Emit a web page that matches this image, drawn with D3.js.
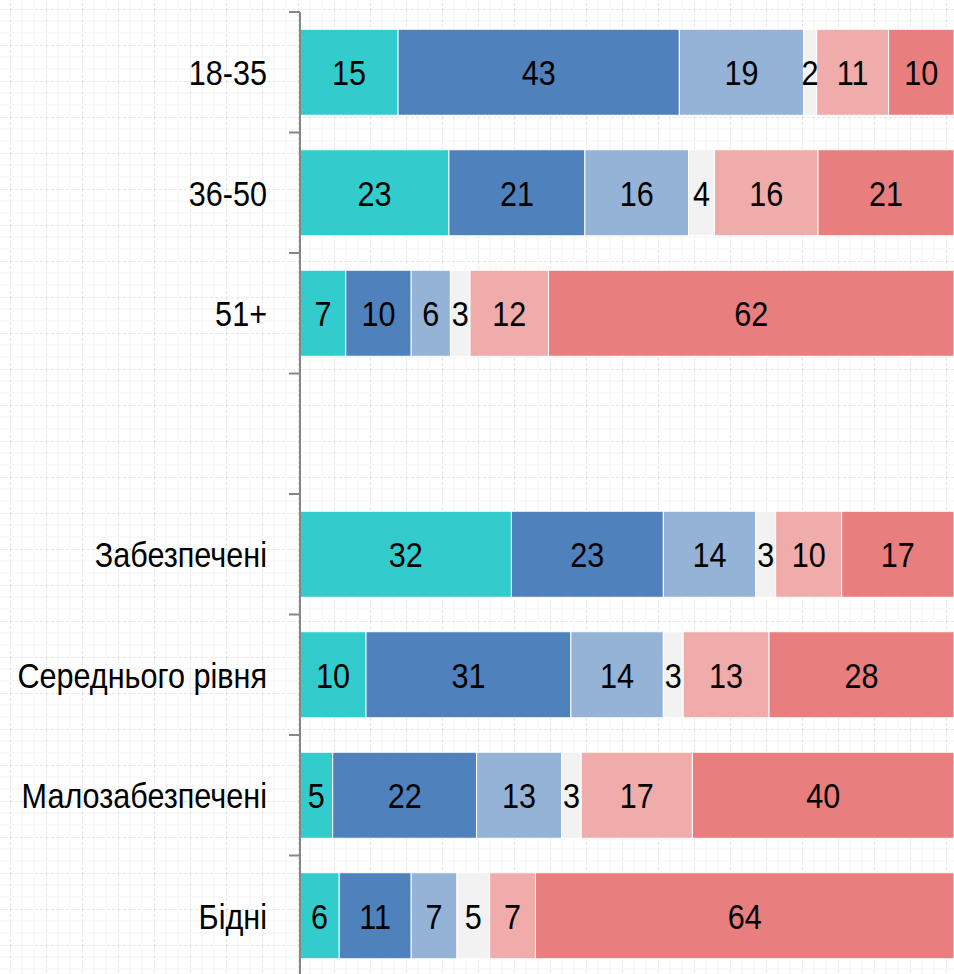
<!DOCTYPE html>
<html>
<head>
<meta charset="utf-8">
<script src="https://cdn.jsdelivr.net/npm/d3@7"></script>
<style>
  html, body { margin: 0; padding: 0; background: #fff; }
  svg { display: block; }
</style>
</head>
<body>
<svg id="chart" width="954" height="974"></svg>
<script>
// ---- Data ----
const categories = ["18-35", "36-50", "51+", " ", "Забезпечені", "Середнього рівня", "Малозабезпечені", "Бідні"];
const series1 = [15, 23, 7, 0, 32, 10, 5, 6];
const series2 = [43, 21, 10, 0, 23, 31, 22, 11];
const series3 = [19, 16, 6, 0, 14, 14, 13, 7];
const series4 = [2, 4, 3, 0, 3, 3, 3, 5];
const series5 = [11, 16, 12, 0, 10, 13, 17, 7];
const series6 = [10, 21, 62, 0, 17, 28, 40, 64];
const seriesKeys = ["s1", "s2", "s3", "s4", "s5", "s6"];
const seriesColors = ["#33CCCC", "#4F81BD", "#95B3D7", "#F2F2F2", "#F0ABAB", "#E97E7E"];

const rows = categories.map((c, i) => ({
  cat: c,
  s1: series1[i], s2: series2[i], s3: series3[i],
  s4: series4[i], s5: series5[i], s6: series6[i]
}));

const W = 954, H = 974;
const svg = d3.select("#chart");
const FONT = "'Liberation Sans Narrow', 'Arial Narrow', 'Liberation Sans', Arial, sans-serif";
const NARROW = 0.85;

// ---- Background grid (paper texture) ----
const defs = svg.append("defs");
const pat = defs.append("pattern").attr("id", "grid").attr("patternUnits", "userSpaceOnUse")
  .attr("width", 36).attr("height", 36).attr("x", 10).attr("y", 9);
pat.append("rect").attr("width", 36).attr("height", 36).attr("fill", "#ffffff");
[12, 24].forEach(p => {
  pat.append("line").attr("x1", p).attr("x2", p).attr("y1", 0).attr("y2", 36).attr("stroke", "#f3f3f3").attr("stroke-width", 1);
  pat.append("line").attr("y1", p).attr("y2", p).attr("x1", 0).attr("x2", 36).attr("stroke", "#f3f3f3").attr("stroke-width", 1);
});
pat.append("line").attr("x1", 0.5).attr("x2", 0.5).attr("y1", 0).attr("y2", 36).attr("stroke", "#e6e6e6").attr("stroke-width", 1).attr("stroke-dasharray", "3,2");
pat.append("line").attr("y1", 0.5).attr("y2", 0.5).attr("x1", 0).attr("x2", 36).attr("stroke", "#e6e6e6").attr("stroke-width", 1).attr("stroke-dasharray", "3,2");
svg.append("rect").attr("width", W).attr("height", H).attr("fill", "url(#grid)");

// ---- Scales ----
const x = d3.scaleLinear().domain([0, 1]).range([300, 954]);
const y = d3.scaleBand().domain(categories).range([12, 976]).paddingInner(0.286).paddingOuter(0.143);

const stack = d3.stack().keys(seriesKeys).offset(d3.stackOffsetExpand);
const stacked = stack(rows);

// ---- Bars ----
const g = svg.append("g");
stacked.forEach((layer, si) => {
  const lg = g.append("g").attr("fill", seriesColors[si]);
  lg.selectAll("rect").data(layer.filter(d => d.data[seriesKeys[si]] > 0)).join("rect")
    .attr("x", d => x(d[0]))
    .attr("y", d => y(d.data.cat))
    .attr("width", d => Math.max(0, x(d[1]) - x(d[0])))
    .attr("height", y.bandwidth())
    .attr("stroke", "#ffffff")
    .attr("stroke-width", 1);
});

// ---- Labels in bars ----
stacked.forEach((layer, si) => {
  g.append("g").selectAll("text").data(layer.filter(d => d.data[seriesKeys[si]] > 0)).join("text")
    .attr("transform", d => `translate(${(x(d[0]) + x(d[1])) / 2},${y(d.data.cat) + y.bandwidth() / 2}) scale(${NARROW},1)`)
    .attr("dy", "0.36em")
    .attr("text-anchor", "middle")
    .attr("font-family", FONT)
    .attr("font-size", 36)
    .attr("fill", "#000")
    .text(d => d.data[seriesKeys[si]]);
});

// ---- Axis ----
const step = y.step();
const boundaries = d3.range(categories.length + 1).map(i => 12 + i * step);
const axisG = svg.append("g");
axisG.append("line").attr("x1", 300).attr("x2", 300).attr("y1", 12).attr("y2", H + 5)
  .attr("stroke", "#868686").attr("stroke-width", 2);
axisG.selectAll("line.tick").data(boundaries).join("line").attr("class", "tick")
  .attr("x1", 289).attr("x2", 300)
  .attr("y1", d => d).attr("y2", d => d)
  .attr("stroke", "#868686").attr("stroke-width", 2);

axisG.selectAll("text").data(categories).join("text")
  .attr("transform", d => `translate(267,${y(d) + y.bandwidth() / 2}) scale(${NARROW},1)`)
  .attr("dy", "0.36em")
  .attr("text-anchor", "end")
  .attr("font-family", FONT)
  .attr("font-size", 36)
  .attr("fill", "#000")
  .text(d => d);
</script>
</body>
</html>
